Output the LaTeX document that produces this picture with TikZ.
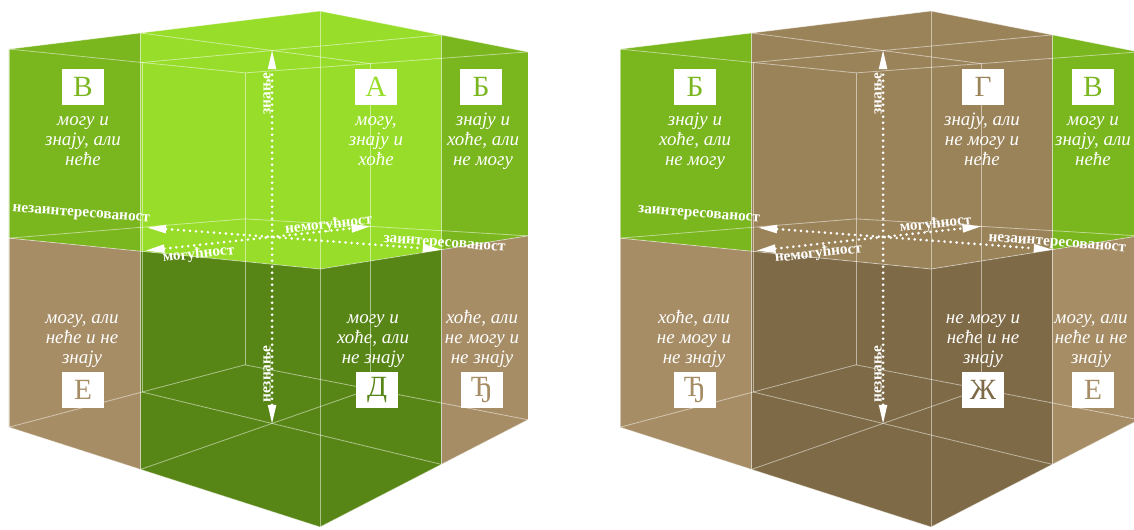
\documentclass[tikz,border=0pt]{standalone}
\usepackage{fontspec}
\setmainfont{Liberation Serif}
\usetikzlibrary{arrows.meta,calc}
\definecolor{gmid}{RGB}{122,182,30}
\definecolor{gbright}{RGB}{152,221,41}
\definecolor{gdark}{RGB}{88,134,22}
\definecolor{tanc}{RGB}{166,141,101}
\definecolor{brownc}{RGB}{155,131,89}
\definecolor{dbrownc}{RGB}{126,106,70}
% perspective projection of lattice point (u,v,w) of a 2x2x2 cube
\newcommand\cubept[5]{%
  \pgfmathsetmacro\cpd{1+0.1823*(#2)+0.2014*(#3)}%
  \pgfmathsetmacro\cpx{#5+(320-153.86*(#2)+210.3*(#3))/\cpd}%
  \pgfmathsetmacro\cpy{153.5-258*((#4)-1.4477)/\cpd}%
  \coordinate (#1) at (\cpx,\cpy);}
\newcommand\mlines[1]{\begin{tabular}[t]{@{}c@{}}#1\end{tabular}}
\tikzset{
  wire/.style={white, opacity=0.5, line width=0.6pt},
  axisarrow/.style={white, line width=2.2pt, line cap=round, dash pattern=on 0pt off 4.5pt,
    arrows={Triangle[length=14pt,width=6.5pt,line width=0pt]-Triangle[length=14pt,width=6.5pt,line width=0pt]}},
  lbox/.style={fill=white, minimum width=31.5pt, minimum height=27pt, inner sep=0pt,
    font=\fontsize{22}{24}\selectfont},
  ctext/.style={text=white, inner sep=0pt, anchor=base, font=\itshape\fontsize{14.2}{15.2}\selectfont},
  axlab/.style={text=white, inner sep=0pt, font=\bfseries\fontsize{11.5}{13}\selectfont},
}
\begin{document}
\begin{tikzpicture}[x=0.75pt,y=-0.75pt]
\useasboundingbox (0,0) rectangle (1134,529);
\clip (0,0) rectangle (1134,529);
\foreach \i in {0,1,2}{\foreach \j in {0,1,2}{\foreach \k in {0,1,2}{
  \cubept{L\i\j\k}{\i}{\j}{\k}{0}
  \cubept{R\i\j\k}{\i}{\j}{\k}{611}
}}}
% ---------- left cube fills
\fill[gmid] (L202) -- (L102) -- (L101) -- (L201) -- cycle;
\fill[gbright] (L102) -- (L002) -- (L012) -- (L011) -- (L001) -- (L101) -- cycle;
\fill[gmid] (L012) -- (L022) -- (L021) -- (L011) -- cycle;
\fill[tanc] (L201) -- (L101) -- (L100) -- (L200) -- cycle;
\fill[gdark] (L101) -- (L001) -- (L011) -- (L010) -- (L000) -- (L100) -- cycle;
\fill[tanc] (L011) -- (L021) -- (L020) -- (L010) -- cycle;
% ---------- right cube fills
\fill[gmid] (R202) -- (R102) -- (R101) -- (R201) -- cycle;
\fill[brownc] (R102) -- (R002) -- (R012) -- (R011) -- (R001) -- (R101) -- cycle;
\fill[gmid] (R012) -- (R022) -- (R021) -- (R011) -- cycle;
\fill[tanc] (R201) -- (R101) -- (R100) -- (R200) -- cycle;
\fill[dbrownc] (R101) -- (R001) -- (R011) -- (R010) -- (R000) -- (R100) -- cycle;
\fill[tanc] (R011) -- (R021) -- (R020) -- (R010) -- cycle;
% ---------- wireframes
\foreach \c in {L,R}{\foreach \a in {0,1,2}{\foreach \b in {0,1,2}{
  \ifnum\numexpr\a*10+\b\relax=11 \else
    \draw[wire] (\c\a\b0) -- (\c\a\b2);
    \draw[wire] (\c0\a\b) -- (\c2\a\b);
    \draw[wire] (\c\a0\b) -- (\c\a2\b);
  \fi
}}}
% ---------- axes
\foreach \c in {L,R}{
  \draw[axisarrow] (\c110) -- (\c112);
  \draw[axisarrow, shorten <=4pt] (\c211) -- (\c011);
  \draw[axisarrow, shorten <=4pt] (\c101) -- (\c121);
}
% ---------- left cube labels
\node[axlab, rotate=90, anchor=base] (Lzn) at (270.5,93.5) {знање};
\node[axlab, rotate=90, anchor=base] (Lnzn) at (270.5,374) {незнање};
\node[axlab, rotate=-4.4, anchor=base east] (Lnez) at (150,222) {незаинтересованост};
\node[axlab, rotate=6.2, anchor=base west] (Lmog) at (163,262) {могућност};
\node[axlab, rotate=6.2, anchor=base east] (Lnem) at (373,224) {немогућност};
\node[axlab, rotate=-4.4, anchor=base west] (Lzai) at (383,242) {заинтересованост};
\node[lbox, text=gmid] (LV) at (83,87) {В};
\node[ctext] (LVt) at (83,125) {\mlines{могу и\\знају, али\\неће}};
\node[lbox, text=gbright] (LA) at (376,87) {А};
\node[ctext] (LAt) at (376,125) {\mlines{могу,\\знају и\\хоће}};
\node[lbox, text=gmid] (LB) at (481,87) {Б};
\node[ctext] (LBt) at (483,125) {\mlines{знају и\\хоће, али\\не могу}};
\node[ctext] (LEt) at (82,323) {\mlines{могу, али\\неће и не\\знају}};
\node[lbox, text=tanc] (LE) at (83,390) {Е};
\node[ctext] (LDt) at (373,323) {\mlines{могу и\\хоће, али\\не знају}};
\node[lbox, text=gdark] (LD) at (377,390) {Д};
\node[ctext] (LDjt) at (482,323) {\mlines{хоће, али\\не могу и\\не знају}};
\node[lbox, text=tanc] (LDj) at (482,390) {Ђ};
% ---------- right cube labels
\node[axlab, rotate=90, anchor=base] (Rzn) at (881.5,93.5) {знање};
\node[axlab, rotate=90, anchor=base] (Rnzn) at (881.5,374) {незнање};
\node[axlab, rotate=-4.4, anchor=base east] (Rzai) at (760,222) {заинтересованост};
\node[axlab, rotate=6.2, anchor=base west] (Rnem) at (775,262) {немогућност};
\node[axlab, rotate=6.2, anchor=base west] (Rmog) at (900,232) {могућност};
\node[axlab, rotate=-4.4, anchor=base west] (Rnez) at (988,241) {незаинтересованост};
\node[lbox, text=gmid] (RB) at (695,87) {Б};
\node[ctext] (RBt) at (695,125) {\mlines{знају и\\хоће, али\\не могу}};
\node[lbox, text=brownc] (RG) at (983,87) {Г};
\node[ctext] (RGt) at (982,125) {\mlines{знају, али\\не могу и\\неће}};
\node[lbox, text=gmid] (RV) at (1093,87) {В};
\node[ctext] (RVt) at (1093,125) {\mlines{могу и\\знају, али\\неће}};
\node[ctext] (RDjt) at (694,323) {\mlines{хоће, али\\не могу и\\не знају}};
\node[lbox, text=tanc] (RDj) at (695,390) {Ђ};
\node[ctext] (RZt) at (983,323) {\mlines{не могу и\\неће и не\\знају}};
\node[lbox, text=dbrownc] (RZ) at (983,390) {Ж};
\node[ctext] (REt) at (1091,323) {\mlines{могу, али\\неће и не\\знају}};
\node[lbox, text=tanc] (RE) at (1093,390) {Е};
\end{tikzpicture}
\end{document}
